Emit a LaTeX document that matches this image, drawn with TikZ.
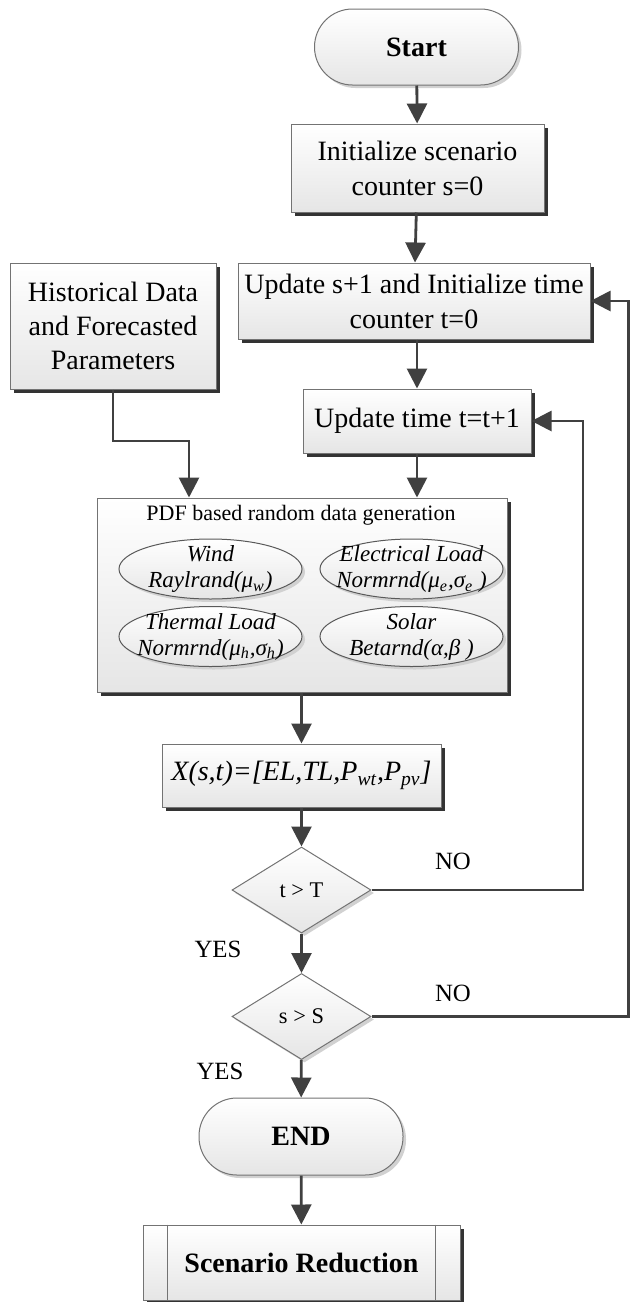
\documentclass[tikz,border=0pt]{standalone}
\usepackage{fontspec}
\setmainfont{Liberation Serif}
\usetikzlibrary{arrows.meta,shapes.geometric,shadows}

\begin{document}
\begin{tikzpicture}[x=0.5pt,y=-0.5pt,
  flowline/.style={draw=black!75,line width=1.4pt},
  flowarrow/.style={flowline,-{Triangle[length=10pt,width=10pt]}},
  boxbase/.style={draw=black!55,line width=0.5pt,top color=white,bottom color=black!10,
    align=center,inner sep=0pt,text=black},
  darkshadow/.style={drop shadow={shadow xshift=2pt,shadow yshift=-2pt,fill=black!80,opacity=1}},
  lightshadow/.style={drop shadow={shadow xshift=1.5pt,shadow yshift=-1.5pt,fill=black!18,opacity=1}},
  procbox/.style={boxbase,darkshadow,font=\fontsize{14}{17.5}\selectfont},
  termbox/.style={boxbase,lightshadow,rounded corners=19pt,minimum width=102pt,minimum height=38pt,
    font=\fontsize{14}{17}\selectfont\bfseries},
  condbox/.style={boxbase,lightshadow,diamond,aspect=1.62,minimum width=69.5pt,minimum height=43pt,
    font=\fontsize{11.2}{13}\selectfont},
  pdfvar/.style={boxbase,lightshadow,ellipse,minimum width=91.5pt,minimum height=30pt,draw=black!65},
  vartext/.style={align=center,font=\fontsize{11.5}{13}\selectfont\itshape},
  answer/.style={font=\fontsize{12.4}{14}\selectfont}]
  \useasboundingbox (0,0) rectangle (629,1302);

  \node[termbox] (start) at (416.5,47) {Start};
  \node[procbox,minimum width=126.5pt,minimum height=44pt] (init) at (417.5,168) {Initialize scenario\\counter s=0};
  \node[procbox,minimum width=176pt,minimum height=38pt] (upds) at (414,301) {Update s+1 and Initialize time\\counter t=0};
  \node[procbox,minimum width=103pt,minimum height=63pt,font=\fontsize{14}{16.8}\selectfont] (hist) at (113,326) {Historical Data\\and Forecasted\\Parameters};
  \node[procbox,minimum width=114pt,minimum height=32pt] (updt) at (417,421) {Update time t=t+1};
  \node[procbox,minimum width=205pt,minimum height=97pt] (pdf) at (302,595) {};
  \node[font=\fontsize{11}{13}\selectfont] (pdftitle) at (301,515) {PDF based random data generation};
  \node[pdfvar,label={[vartext]center:{Wind\\Raylrand(μ\textsubscript{w})}}] (wind) at (210.5,569) {};
  \node[pdfvar,label={[vartext]center:{Electrical Load\\Normrnd(μ\textsubscript{e},σ\textsubscript{e} )}}] (eload) at (411.5,569) {};
  \node[pdfvar,label={[vartext]center:{Thermal Load\\Normrnd(μ\textsubscript{h},σ\textsubscript{h})}}] (tload) at (210.5,636.5) {};
  \node[pdfvar,label={[vartext]center:{Solar\\Betarnd(α,β )}}] (solar) at (411.5,636.5) {};
  \node[procbox,minimum width=139.5pt,minimum height=31.5pt] (xst) at (301.5,775.5) {\textit{X(s,t)=[EL,TL,P\textsubscript{wt},P\textsubscript{pv}]}};
  \node[condbox] (tchk) at (301.5,890) {t > T};
  \node[condbox] (schk) at (301.5,1016.5) {s > S};
  \node[termbox,minimum height=38.5pt] (endn) at (301,1136.5) {END};
  \node[procbox,minimum width=158.5pt,minimum height=37.5pt,font=\fontsize{14}{17}\selectfont\bfseries] (red) at (301.5,1262.5) {Scenario Reduction};
  \draw[draw=black!55,line width=0.5pt] ([xshift=12.5pt]red.north west) -- ([xshift=12.5pt]red.south west);
  \draw[draw=black!55,line width=0.5pt] ([xshift=-12.5pt]red.north east) -- ([xshift=-12.5pt]red.south east);

  \node[answer] (tno) at (453,861) {NO};
  \node[answer] (tyes) at (218,949) {YES};
  \node[answer] (sno) at (453,993) {NO};
  \node[answer] (syes) at (220,1071) {YES};

  \coordinate (hbend) at (189,441);
  \coordinate (tloop) at (583,890);
  \coordinate (sloop) at (628.5,1016.5);

  \draw[flowarrow] (start) -- (init);
  \draw[flowarrow] (init) -- (upds);
  \draw[flowarrow] (upds.south -| updt.north) -- (updt);
  \draw[flowarrow] (updt.south) -- (updt.south |- pdf.north);
  \draw[flowarrow] (hist.south) |- (hbend) -- (hbend |- pdf.north);
  \draw[flowarrow] (pdf.south -| xst.north) -- (xst);
  \draw[flowarrow] (xst) -- (tchk);
  \draw[flowarrow] (tchk) -- (schk);
  \draw[flowarrow] (schk) -- (endn);
  \draw[flowarrow] (endn) -- (red);
  \draw[flowarrow] (tchk.east) -- (tloop) |- (updt.east);
  \draw[flowarrow] (schk.east) -- (sloop) |- (upds.east);
\end{tikzpicture}
\end{document}
